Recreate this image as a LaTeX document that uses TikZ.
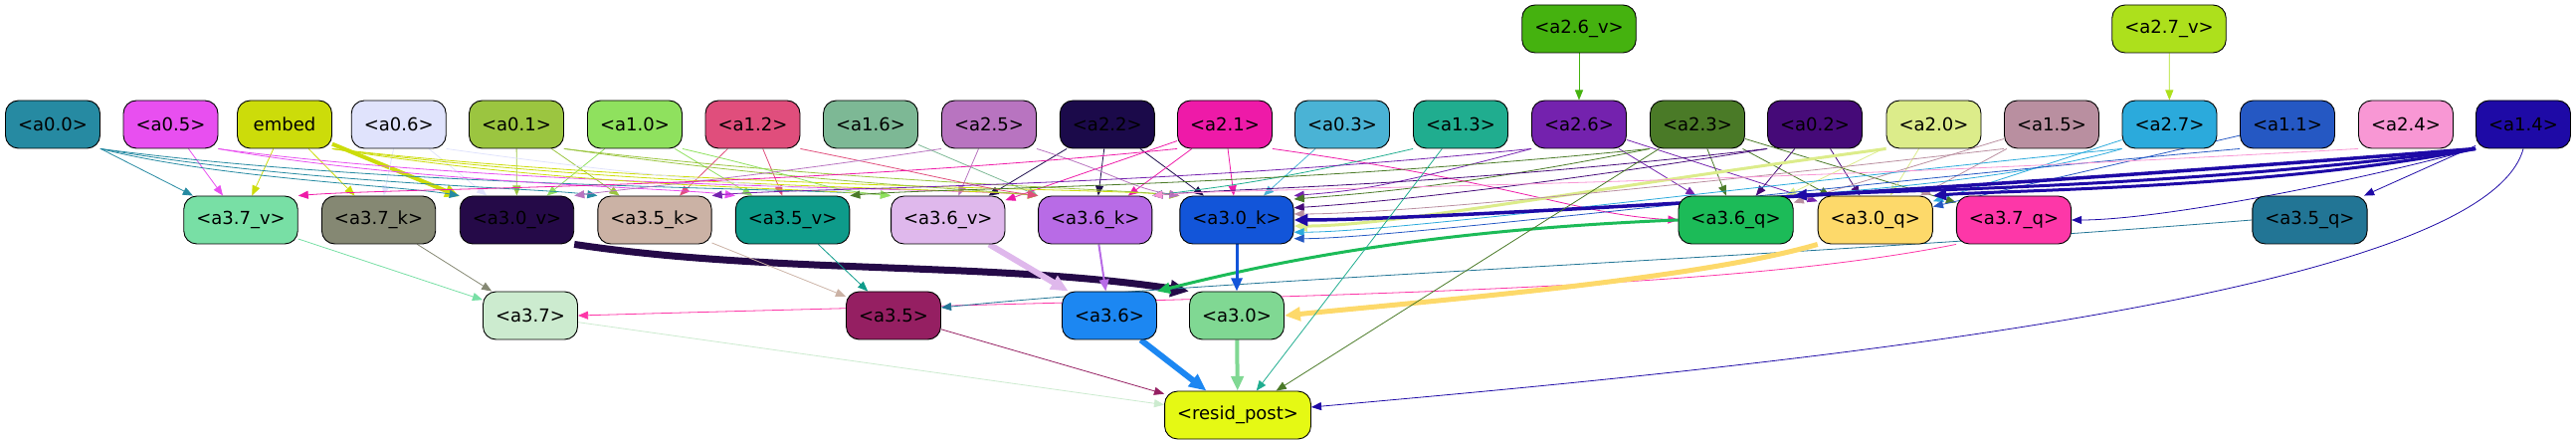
\documentclass[tikz,border=0pt]{standalone}
\usepackage{fontspec}
\setmainfont{DejaVu Sans}
\usetikzlibrary{arrows.meta}
\pgfdeclarelayer{edges}
\pgfsetlayers{edges,main}
\definecolor{ca00}{HTML}{268AA2}
\definecolor{ca05}{HTML}{E84FF0}
\definecolor{cemb}{HTML}{CCDC0A}
\definecolor{ca06}{HTML}{E0E3FC}
\definecolor{ca01}{HTML}{9BC540}
\definecolor{ca10}{HTML}{8FE15E}
\definecolor{ca12}{HTML}{E04E7C}
\definecolor{ca16}{HTML}{7DB895}
\definecolor{ca25}{HTML}{B874C0}
\definecolor{ca22}{HTML}{1B0A4A}
\definecolor{ca21}{HTML}{EE1AA8}
\definecolor{ca03}{HTML}{4AB3D5}
\definecolor{ca13}{HTML}{20AD8F}
\definecolor{ca26}{HTML}{7422AE}
\definecolor{ca23}{HTML}{4A7A27}
\definecolor{ca02}{HTML}{450A78}
\definecolor{ca20}{HTML}{DCEC8A}
\definecolor{ca15}{HTML}{B98FA0}
\definecolor{ca27}{HTML}{2BAADC}
\definecolor{ca11}{HTML}{2558C3}
\definecolor{ca24}{HTML}{F897D4}
\definecolor{ca14}{HTML}{1E0AA6}
\definecolor{ca26v}{HTML}{45B20F}
\definecolor{ca27v}{HTML}{ADE01C}
\definecolor{ca37v}{HTML}{78DFA5}
\definecolor{ca37k}{HTML}{858873}
\definecolor{ca30v}{HTML}{250A48}
\definecolor{ca35k}{HTML}{CBB2A5}
\definecolor{ca35v}{HTML}{0E9B8A}
\definecolor{ca36v}{HTML}{DFB8EC}
\definecolor{ca36k}{HTML}{B86BE6}
\definecolor{ca30k}{HTML}{1255D9}
\definecolor{ca36q}{HTML}{1CBB58}
\definecolor{ca30q}{HTML}{FDD96A}
\definecolor{ca37q}{HTML}{FD37A8}
\definecolor{ca35q}{HTML}{227595}
\definecolor{ca37}{HTML}{CCEBCF}
\definecolor{ca35}{HTML}{951F62}
\definecolor{ca36}{HTML}{1C87F2}
\definecolor{ca30}{HTML}{80D893}
\definecolor{crp}{HTML}{E5F914}
\begin{document}
\begin{tikzpicture}[x=1pt,y=1pt]
    \tikzstyle{box}=[draw=black, line width=0.9pt, rounded corners=13pt, minimum width=95pt, minimum height=48pt, inner xsep=12.5pt, inner ysep=0pt, font=\fontsize{18}{21}\selectfont]
    \tikzstyle{wire}=[-{Triangle[length=9pt 1.4,width=7pt 1.3]}, line width=0.8pt]
    \useasboundingbox (0,0) rectangle (2589,-443);
    \node [box, fill=ca26v] (a26v) at (1587,-29) {<a2.6\_v>};
    \node [box, fill=ca27v] (a27v) at (2180,-29) {<a2.7\_v>};
    \node [box, fill=ca00] (a00) at (53,-125) {<a0.0>};
    \node [box, fill=ca05] (a05) at (171.5,-125) {<a0.5>};
    \node [box, fill=cemb] (emb) at (286,-125) {embed};
    \node [box, fill=ca06] (a06) at (400.7,-125) {<a0.6>};
    \node [box, fill=ca01] (a01) at (519,-125) {<a0.1>};
    \node [box, fill=ca10] (a10) at (638,-125) {<a1.0>};
    \node [box, fill=ca12] (a12) at (756.5,-125) {<a1.2>};
    \node [box, fill=ca16] (a16) at (875,-125) {<a1.6>};
    \node [box, fill=ca25] (a25) at (994,-125) {<a2.5>};
    \node [box, fill=ca22] (a22) at (1112.8,-125) {<a2.2>};
    \node [box, fill=ca21] (a21) at (1231,-125) {<a2.1>};
    \node [box, fill=ca03] (a03) at (1349,-125) {<a0.3>};
    \node [box, fill=ca13] (a13) at (1468,-125) {<a1.3>};
    \node [box, fill=ca26] (a26) at (1587,-125) {<a2.6>};
    \node [box, fill=ca23] (a23) at (1706,-125) {<a2.3>};
    \node [box, fill=ca02] (a02) at (1824,-125) {<a0.2>};
    \node [box, fill=ca20] (a20) at (1943.5,-125) {<a2.0>};
    \node [box, fill=ca15] (a15) at (2062,-125) {<a1.5>};
    \node [box, fill=ca27] (a27) at (2180.5,-125) {<a2.7>};
    \node [box, fill=ca11] (a11) at (2299,-125) {<a1.1>};
    \node [box, fill=ca24] (a24) at (2418,-125) {<a2.4>};
    \node [box, fill=ca14] (a14) at (2536,-125) {<a1.4>};
    \node [box, fill=ca37v] (a37v) at (242,-221) {<a3.7\_v>};
    \node [box, fill=ca37k] (a37k) at (380.6,-221) {<a3.7\_k>};
    \node [box, fill=ca30v] (a30v) at (519.5,-221) {<a3.0\_v>};
    \node [box, fill=ca35k] (a35k) at (658,-221) {<a3.5\_k>};
    \node [box, fill=ca35v] (a35v) at (796.6,-221) {<a3.5\_v>};
    \node [box, fill=ca36v] (a36v) at (952.8,-221) {<a3.6\_v>};
    \node [box, fill=ca36k] (a36k) at (1100.7,-221) {<a3.6\_k>};
    \node [box, fill=ca30k] (a30k) at (1243,-221) {<a3.0\_k>};
    \node [box, fill=ca36q] (a36q) at (1744.6,-221) {<a3.6\_q>};
    \node [box, fill=ca30q] (a30q) at (1884.8,-221) {<a3.0\_q>};
    \node [box, fill=ca37q] (a37q) at (2024,-221) {<a3.7\_q>};
    \node [box, fill=ca35q] (a35q) at (2321.4,-221) {<a3.5\_q>};
    \node [box, fill=ca37] (a37) at (533,-317) {<a3.7>};
    \node [box, fill=ca35] (a35) at (898,-317) {<a3.5>};
    \node [box, fill=ca36] (a36) at (1115,-317) {<a3.6>};
    \node [box, fill=ca30] (a30) at (1243,-317) {<a3.0>};
    \node [box, fill=crp] (rp) at (1244,-417) {<resid\_post>};
    \begin{pgfonlayer}{edges}
    \draw [wire, ca00] (a00) -- (a37v);
    \draw [wire, ca05] (a05) -- (a37v);
    \draw [wire, cemb] (emb) -- (a37v);
    \draw [wire, cemb] (emb) -- (a37k);
    \draw [wire, cemb, line width=4pt] (emb) -- (a30v);
    \draw [wire, ca06] (a06) -- (a37k);
    \draw [wire, ca06] (a06) -- (a30v);
    \draw [wire, ca01] (a01) -- (a30v);
    \draw [wire, ca01] (a01) -- (a35k);
    \draw [wire, ca10] (a10) -- (a30v);
    \draw [wire, ca10] (a10) -- (a35v);
    \draw [wire, ca12] (a12) -- (a35k);
    \draw [wire, ca12] (a12) -- (a35v);
    \draw [wire, ca16] (a16) -- (a36k);
    \draw [wire, ca25] (a25) -- (a36v);
    \draw [wire, ca22] (a22) -- (a36v);
    \draw [wire, ca22] (a22) -- (a36k);
    \draw [wire, ca22] (a22) -- (a30k);
    \draw [wire, ca21] (a21) -- (a36v);
    \draw [wire, ca21] (a21) -- (a36k);
    \draw [wire, ca21] (a21) -- (a30k);
    \draw [wire, ca03] (a03) -- (a30k);
    \draw [wire, ca26v] (a26v) -- (a26);
    \draw [wire, ca27v] (a27v) -- (a27);
    \draw [wire, ca26] (a26) -- (a36q);
    \draw [wire, ca26] (a26) -- (a30q);
    \draw [wire, ca23] (a23) -- (a36q);
    \draw [wire, ca23] (a23) -- (a30q);
    \draw [wire, ca23] (a23) -- (a37q);
    \draw [wire, ca02] (a02) -- (a36q);
    \draw [wire, ca02] (a02) -- (a30q);
    \draw [wire, ca20] (a20) -- (a30q);
    \draw [wire, ca20] (a20) -- (a36q);
    \draw [wire, ca15] (a15) -- (a30q);
    \draw [wire, ca15] (a15) -- (a36q);
    \draw [wire, ca27] (a27) -- (a30q);
    \draw [wire, ca11] (a11) -- (a30q);
    \draw [wire, ca14] (a14) -- (a35q);
    \draw [wire, ca00] (a00.south east) .. controls +(120,-30) and +(-60,10) .. (a30v.north west);
    \draw [wire, ca00] (a00.south east) .. controls +(200,-35) and +(-60,8) .. (a35k.north west);
    \draw [wire, ca00] (a00.south east) .. controls +(300,-40) and +(-80,8) .. (a36v.north west);
    \draw [wire, ca05] (a05.south east) .. controls +(200,-35) and +(-60,8) .. (a35v.north west);
    \draw [wire, ca05] (a05.south east) .. controls +(300,-40) and +(-80,8) .. (a36k.north west);
    \draw [wire, cemb] (emb.south east) .. controls +(250,-40) and +(-80,8) .. (a36v.north west);
    \draw [wire, cemb] (emb.south east) .. controls +(300,-40) and +(-80,8) .. (a36k.north west);
    \draw [wire, cemb] (emb.south east) .. controls +(350,-40) and +(-80,8) .. (a30k.north west);
    \draw [wire, ca06] (a06.south east) .. controls +(250,-35) and +(-80,8) .. (a36v.north west);
    \draw [wire, ca01] (a01.south east) .. controls +(250,-35) and +(-80,8) .. (a36k.north west);
    \draw [wire, ca01] (a01.south east) .. controls +(300,-35) and +(-80,8) .. (a30k.north west);
    \draw [wire, ca10] (a10.south east) .. controls +(150,-35) and +(-80,8) .. (a36v.north west);
    \draw [wire, ca12] (a12.south east) .. controls +(150,-30) and +(-60,8) .. (a36k.north west);
    \draw [wire, ca25] (a25.south east) .. controls +(80,-25) and +(-50,8) .. (a30k.north west);
    \draw [wire, ca25] (a25.south west) .. controls +(-200,-30) and +(60,8) .. (a30v.north east);
    \draw [wire, ca21] (a21.south west) .. controls +(-400,-40) and +(100,8) .. (a37v.north east);
    \draw [wire, ca21] (a21.south east) .. controls +(250,-35) and +(-100,5) .. (a36q.west);
    \draw [wire, ca13] (a13.south west) .. controls +(-150,-35) and +(60,8) .. (a36k.north east);
    \draw [wire, ca26] (a26.south west) .. controls +(-150,-40) and +(60,5) .. (a30k.north east);
    \draw [wire, ca26] (a26.south west) .. controls +(-400,-40) and +(80,8) .. (a35k.north east);
    \draw [wire, ca23] (a23.south west) .. controls +(-200,-40) and +(60,5) .. (a30k.20);
    \draw [wire, ca23] (a23.south west) .. controls +(-400,-40) and +(80,8) .. (a35v.north east);
    \draw [wire, ca02] (a02.south west) .. controls +(-250,-40) and +(80,5) .. (a30k.12);
    \draw [wire, ca02] (a02.south west) .. controls +(-350,-40) and +(80,8) .. (a36k.north east);
    \draw [wire, ca20, line width=3pt] (a20.south west) .. controls +(-300,-40) and +(100,0) .. (a30k.-6);
    \draw [wire, ca15] (a15.south west) .. controls +(-350,-40) and +(100,0) .. (a30k.6);
    \draw [wire, ca27] (a27.south west) .. controls +(-100,-30) and +(60,5) .. (a36q.north east);
    \draw [wire, ca27] (a27.south west) .. controls +(-400,-40) and +(100,0) .. (a30k.-12);
    \draw [wire, ca11] (a11.south west) .. controls +(-450,-40) and +(100,0) .. (a30k.-18);
    \draw [wire, ca24] (a24.south west) .. controls +(-700,-40) and +(80,8) .. (a36k.north east);
    \draw [wire, ca14, line width=3.5pt] (a14.south west) .. controls +(-500,-40) and +(120,0) .. (a30k.east);
    \draw [wire, ca14, line width=3pt] (a14.south west) .. controls +(-300,-40) and +(80,5) .. (a36q.north east);
    \draw [wire, ca14, line width=3pt] (a14.south west) .. controls +(-200,-40) and +(60,5) .. (a30q.north east);
    \draw [wire, ca14] (a14.south west) .. controls +(-150,-40) and +(80,0) .. (a37q.east);
    \draw [wire, ca14] (a14.south) .. controls +(-40,-150) and +(450,40) .. ([yshift=8pt]rp.east);
    \draw [wire, ca37v] (a37v) -- (a37);
    \draw [wire, ca37k] (a37k) -- (a37);
    \draw [wire, ca37q] (a37q.south west) .. controls +(-250,-50) and +(700,20) .. (a37.east);
    \draw [wire, ca30v, line width=7pt] (a30v.south east) .. controls +(200,-30) and +(-200,30) .. (a30.north west);
    \draw [wire, ca35k] (a35k) -- (a35);
    \draw [wire, ca35v] (a35v) -- (a35);
    \draw [wire, ca35q] (a35q.west) .. controls +(-500,-40) and +(300,30) .. ([yshift=8pt]a35.east);
    \draw [wire, ca36v, line width=6pt] (a36v) -- (a36);
    \draw [wire, ca36k, line width=2pt] (a36k) -- (a36);
    \draw [wire, ca36q, line width=3pt] (a36q.west) .. controls +(-250,-10) and +(120,30) .. (a36.north east);
    \draw [wire, ca30k, line width=3pt] (a30k) -- (a30);
    \draw [wire, ca30q, line width=5pt] (a30q.south west) .. controls +(-120,-35) and +(150,15) .. (a30.east);
    \draw [wire, ca37] (a37) -- (rp);
    \draw [wire, ca35] (a35) -- (rp);
    \draw [wire, ca36, line width=6pt] (a36) -- (rp);
    \draw [wire, ca30, line width=4pt] (a30) -- (rp);
    \draw [wire, ca13] (a13) -- (rp);
    \draw [wire, ca23] (a23) -- (rp);
    \end{pgfonlayer}
\end{tikzpicture}
\end{document}
